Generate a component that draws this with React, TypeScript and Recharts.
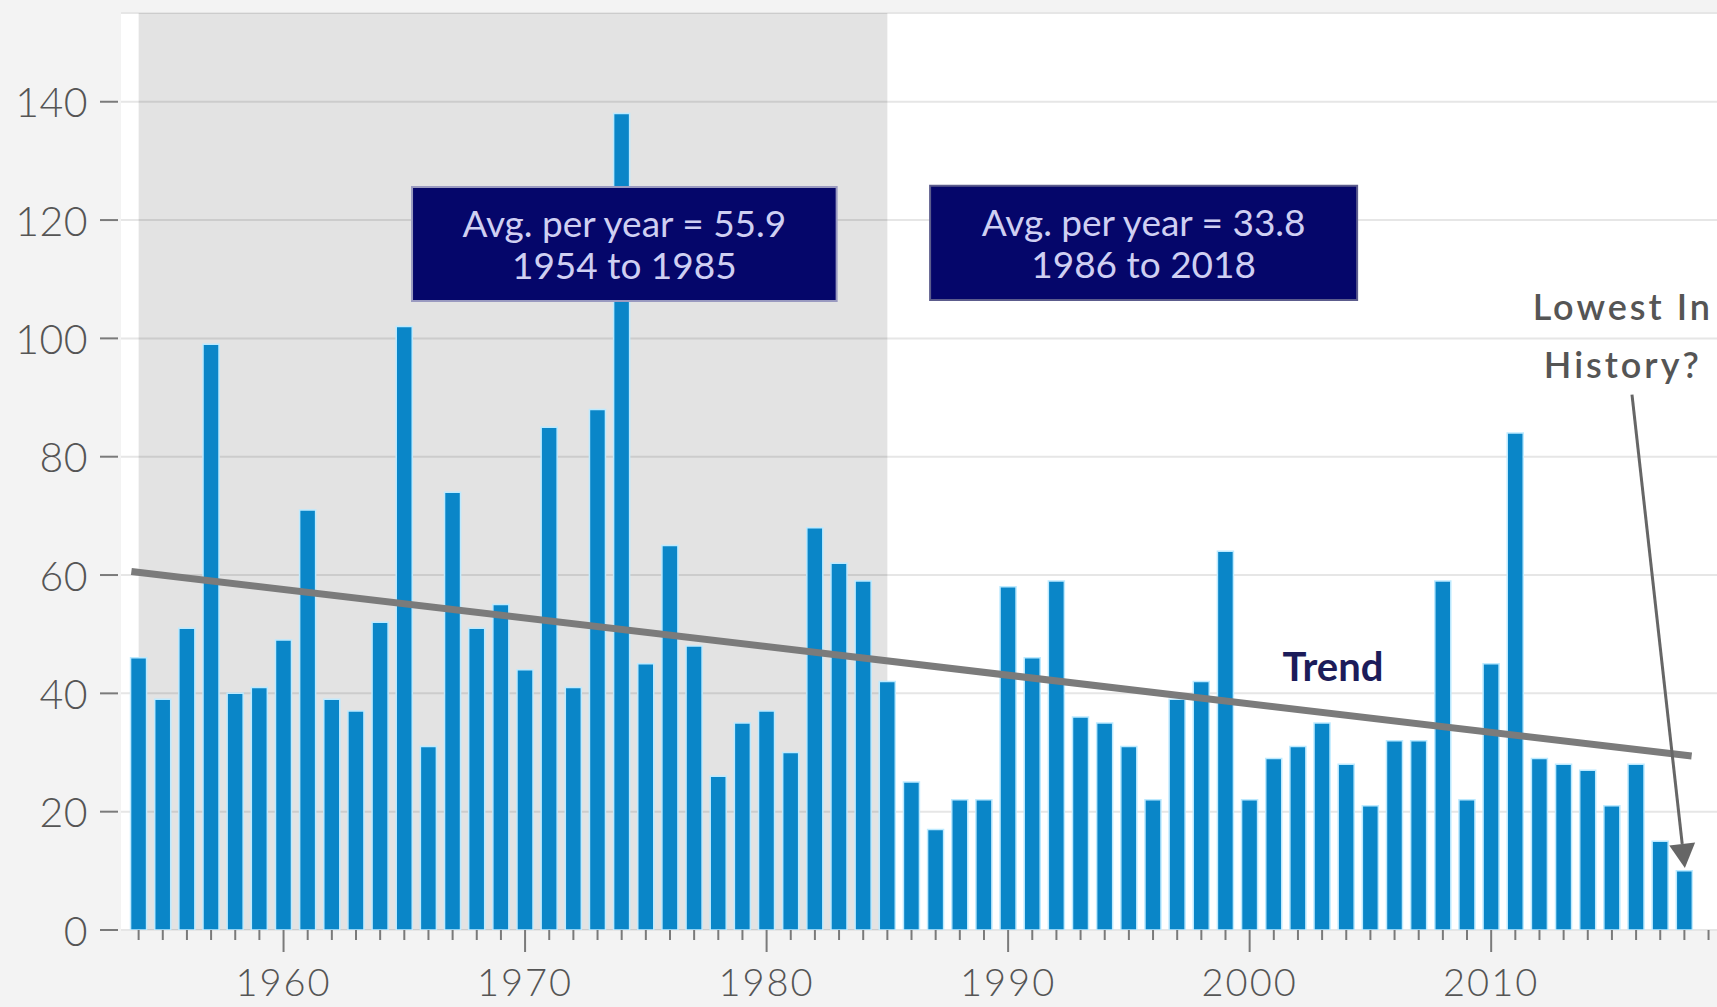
import {
  Bar,
  BarChart,
  CartesianGrid,
  ReferenceArea,
  ReferenceDot,
  ReferenceLine,
  XAxis,
  YAxis,
} from "recharts";

const YEARS = [
  1954, 1955, 1956, 1957, 1958, 1959, 1960, 1961, 1962, 1963, 1964, 1965, 1966,
  1967, 1968, 1969, 1970, 1971, 1972, 1973, 1974, 1975, 1976, 1977, 1978, 1979,
  1980, 1981, 1982, 1983, 1984, 1985, 1986, 1987, 1988, 1989, 1990, 1991, 1992,
  1993, 1994, 1995, 1996, 1997, 1998, 1999, 2000, 2001, 2002, 2003, 2004, 2005,
  2006, 2007, 2008, 2009, 2010, 2011, 2012, 2013, 2014, 2015, 2016, 2017, 2018,
];

const COUNTS = [
  46, 39, 51, 99, 40, 41, 49, 71, 39, 37, 52, 102, 31, 74, 51, 55, 44, 85, 41,
  88, 138, 45, 65, 48, 26, 35, 37, 30, 68, 62, 59, 42, 25, 17, 22, 22, 58, 46,
  59, 36, 35, 31, 22, 39, 42, 64, 22, 29, 31, 35, 28, 21, 32, 32, 59, 22, 45,
  84, 29, 28, 27, 21, 28, 15, 10,
];

const X_TICKS = [...YEARS, 2019];
const DECADE_LABELS = [1960, 1970, 1980, 1990, 2000, 2010];
const Y_TICKS = [0, 20, 40, 60, 80, 100, 120, 140];

const SHADE_FROM = 1954;
const SHADE_TO = 1985;

const TREND_START = { x: 1953.7, y: 60.6 };
const TREND_END = { x: 2018.3, y: 29.4 };

const BOX_1_TEXT = ["Avg. per year = 55.9", "1954 to 1985"];
const BOX_2_TEXT = ["Avg. per year = 33.8", "1986 to 2018"];
const TREND_TEXT = "Trend";
const LOWEST_TEXT = ["Lowest In", "History?"];

const data = YEARS.map((year, i) => ({ year, count: COUNTS[i] }));

const W = 1717;
const H = 1007;
const FONT = "Lato, 'Open Sans', sans-serif";
const BAR_BLUE = "#0a86c8";
const NAVY = "#05066a";

function XTick(props: any) {
  const { x, y, payload } = props;
  const major = DECADE_LABELS.includes(payload.value);
  return (
    <g>
      <line x1={x} x2={x} y1={y} y2={y + (major ? 22 : 10)} stroke="#7a7a7a" strokeWidth={2} />
      {major && (
        <text
          x={x}
          y={y + 51}
          textAnchor="middle"
          dominantBaseline="central"
          fontSize={38}
          fontWeight={300}
          letterSpacing={2}
          fill="#555"
          fontFamily={FONT}
        >
          {payload.value}
        </text>
      )}
    </g>
  );
}

function YTick(props: any) {
  const { x, y, payload } = props;
  return (
    <g>
      <line x1={x - 21} x2={x - 3} y1={y} y2={y} stroke="#7a7a7a" strokeWidth={2} />
      <text
        x={x - 33}
        y={y}
        textAnchor="end"
        dominantBaseline="central"
        fontSize={41}
        fontWeight={300}
        letterSpacing={0.5}
        fill="#555"
        fontFamily={FONT}
      >
        {payload.value}
      </text>
    </g>
  );
}

const boxLabel = (lines: string[]) => (props: any) => {
  const { x, y, width, height } = props.viewBox;
  return (
    <g>
      {lines.map((t, i) => (
        <text
          key={t}
          x={x + width / 2}
          y={y + height * (i === 0 ? 0.31 : 0.68)}
          textAnchor="middle"
          dominantBaseline="central"
          fontSize={37}
          fill="#cfcff2"
          fontFamily={FONT}
        >
          {t}
        </text>
      ))}
    </g>
  );
};

function Arrow(props: any) {
  const { x1, y1, x2, y2 } = props;
  const dx = x2 - x1;
  const dy = y2 - y1;
  const len = Math.sqrt(dx * dx + dy * dy);
  const ux = dx / len;
  const uy = dy / len;
  const headLen = 24;
  const headHalf = 13;
  const bx = x2 - ux * headLen;
  const by = y2 - uy * headLen;
  const pts = `${x2},${y2} ${bx - uy * headHalf},${by + ux * headHalf} ${bx + uy * headHalf},${by - ux * headHalf}`;
  return (
    <g>
      <line x1={x1} y1={y1} x2={bx} y2={by} stroke="#666" strokeWidth={3} />
      <polygon points={pts} fill="#666" />
    </g>
  );
}

export default function App() {
  return (
    <div
      style={{
        position: "absolute",
        left: 0,
        top: 0,
        width: W,
        height: H,
        background: "#f3f3f3",
        overflow: "hidden",
      }}
    >
      <BarChart width={W} height={H} data={data} margin={{ top: 13, right: 0, bottom: 0, left: 0 }}>
        <CartesianGrid vertical={false} stroke="#e6e6e6" strokeWidth={2} fill="#ffffff" />
        <ReferenceArea x1={SHADE_FROM} x2={SHADE_TO} fill="#000" fillOpacity={0.11} stroke="none" />
        <XAxis
          dataKey="year"
          type="number"
          domain={[1953.27, 2019.35]}
          allowDataOverflow
          ticks={X_TICKS}
          interval={0}
          height={77}
          tickSize={0}
          tickMargin={0}
          axisLine={false}
          tickLine={false}
          tick={<XTick />}
        />
        <YAxis
          type="number"
          domain={[0, 155]}
          allowDataOverflow
          ticks={Y_TICKS}
          interval={0}
          width={121}
          tickSize={0}
          tickMargin={0}
          axisLine={false}
          tickLine={false}
          tick={<YTick />}
        />
        <Bar
          dataKey="count"
          barSize={16}
          fill={BAR_BLUE}
          stroke="#bdeaff"
          strokeWidth={1.5}
          isAnimationActive={false}
        />
        <ReferenceLine
          segment={[TREND_START, TREND_END]}
          stroke="#7b7b7b"
          strokeWidth={7}
          zIndex={900}
        />
        <ReferenceArea
          x1={1965.32}
          x2={1982.9}
          y1={106.3}
          y2={125.6}
          fill={NAVY}
          fillOpacity={1}
          stroke="#9a9ac0"
          strokeWidth={2}
          label={boxLabel(BOX_1_TEXT)}
          zIndex={1000}
        />
        <ReferenceArea
          x1={1986.77}
          x2={2004.45}
          y1={106.5}
          y2={125.8}
          fill={NAVY}
          fillOpacity={1}
          stroke="#5c5c8c"
          strokeWidth={2}
          label={boxLabel(BOX_2_TEXT)}
          zIndex={1000}
        />
        <ReferenceDot
          x={2003.45}
          y={44.7}
          r={0}
          zIndex={1000}
          shape={(p: any) => (
            <text
              x={p.cx}
              y={p.cy}
              textAnchor="middle"
              dominantBaseline="central"
              fontSize={40}
              fontWeight={700}
              fill="#1c1c5a"
              fontFamily={FONT}
            >
              {TREND_TEXT}
            </text>
          )}
        />
        <ReferenceDot
          x={2015.45}
          y={100.5}
          r={0}
          zIndex={1000}
          shape={(p: any) => (
            <g>
              {LOWEST_TEXT.map((t, i) => (
                <text
                  key={t}
                  x={p.cx}
                  y={p.cy + (i === 0 ? -29 : 29)}
                  textAnchor="middle"
                  dominantBaseline="central"
                  fontSize={36}
                  fontWeight={600}
                  letterSpacing={3}
                  fill="#555"
                  fontFamily={FONT}
                >
                  {t}
                </text>
              ))}
            </g>
          )}
        />
        <ReferenceLine
          segment={[
            { x: 2015.83, y: 90.5 },
            { x: 2018.02, y: 10.5 },
          ]}
          shape={Arrow}
          zIndex={1000}
        />
      </BarChart>
    </div>
  );
}
